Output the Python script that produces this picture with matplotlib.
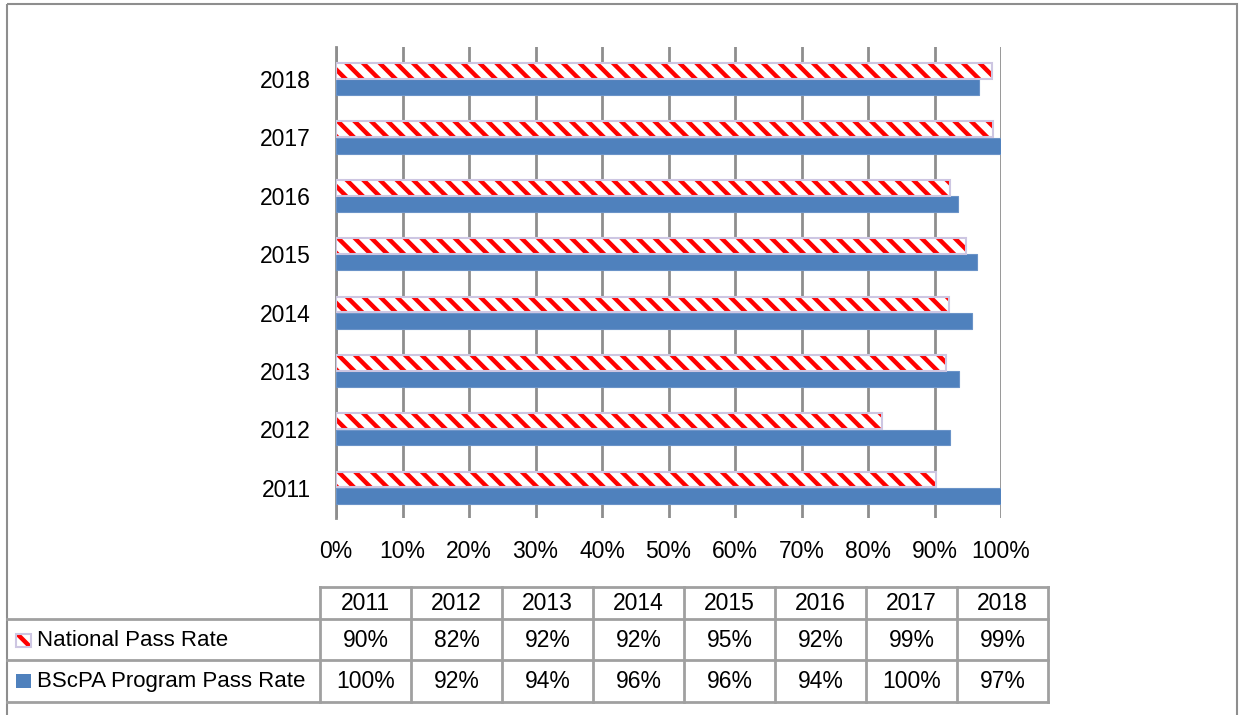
import matplotlib
matplotlib.use('Agg')
import matplotlib.pyplot as plt
import matplotlib.patches as mpatches

plt.rcParams['font.family'] = ['Liberation Sans', 'DejaVu Sans']
plt.rcParams['hatch.linewidth'] = 3.2

# ── data ──
years = [2011, 2012, 2013, 2014, 2015, 2016, 2017, 2018]
national = [90.2, 82.1, 91.7, 92.2, 94.7, 92.3, 98.8, 98.6]
program = [100.0, 92.3, 93.7, 95.6, 96.4, 93.6, 100.0, 96.7]
series_names = ['National Pass Rate', 'BScPA Program Pass Rate']
x_ticks = [0, 10, 20, 30, 40, 50, 60, 70, 80, 90, 100]

C = {
    'blue': '#4f81bd',
    'red': '#ff0000',
    'lav': '#cdc6e2',
    'grid': '#8e8e8e',
    'table': '#a0a0a0',
}
FS = 16.5

W, H = 1239, 715
fig = plt.figure(figsize=(W / 100, H / 100), dpi=100)

# ── bar chart ──
ax = fig.add_axes([336 / W, 1 - 518 / H, 665 / W, 471 / H])
pos = list(range(len(years)))
bh = 0.27
ax.barh([p + bh / 2 + 0.005 for p in pos], national, height=bh, color='white',
        edgecolor=C['red'], hatch='\\\\', linewidth=0, zorder=3)
ax.barh([p + bh / 2 + 0.005 for p in pos], national, height=bh, color='none',
        edgecolor=C['lav'], linewidth=1.5, zorder=4)
ax.barh([p - bh / 2 - 0.005 for p in pos], program, height=bh, color=C['blue'],
        edgecolor='#6a93c8', linewidth=0.8, zorder=3)

ax.set_xlim(0, 100)
ax.set_ylim(-0.52, 7.55)
ax.set_xticks(x_ticks)
ax.set_xticklabels([f'{t}%' for t in x_ticks], fontsize=FS)
ax.set_yticks(pos)
ax.set_yticklabels([str(y) for y in years], fontsize=FS)
ax.tick_params(axis='both', length=0)
ax.tick_params(axis='x', pad=16)
ax.tick_params(axis='y', pad=18)
ax.grid(axis='x', color=C['grid'], lw=2, zorder=1)
for s in ['top', 'right', 'bottom']:
    ax.spines[s].set_visible(False)
ax.spines['left'].set_color(C['grid'])
ax.spines['left'].set_linewidth(2)
ax.set_axisbelow(True)

# ── overlay in pixel coords for frame and data table ──
ov = fig.add_axes([0, 0, 1, 1], facecolor='none')
ov.set_xlim(0, W)
ov.set_ylim(H, 0)
ov.axis('off')

# outer frame (bottom edge runs past the image)
ov.add_patch(mpatches.Rectangle((7, 4), 1230, 730, fill=False,
                                edgecolor=C['grid'], lw=1.5, clip_on=True))

col_x = [320 + i * 91 for i in range(len(years) + 1)]
row_y = [587, 619, 660, 702]
lc = C['table']
# header row
ov.plot([col_x[0], col_x[-1]], [row_y[0], row_y[0]], color=lc, lw=2)
for r in row_y[1:]:
    ov.plot([7, col_x[-1]], [r, r], color=lc, lw=2)
for cx in col_x:
    ov.plot([cx, cx], [row_y[0], row_y[-1]], color=lc, lw=2)

mid = [(row_y[k] + row_y[k + 1]) / 2 + 1 for k in range(3)]
for i, y in enumerate(years):
    cx = (col_x[i] + col_x[i + 1]) / 2
    ov.text(cx, mid[0], str(y), ha='center', va='center', fontsize=FS)
    ov.text(cx, mid[1], f'{round(national[i])}%', ha='center', va='center', fontsize=FS)
    ov.text(cx, mid[2], f'{round(program[i])}%', ha='center', va='center', fontsize=FS)

# legend keys + row labels
ov.add_patch(mpatches.Rectangle((16, 634), 15, 13, facecolor='white', edgecolor=C['red'],
                                hatch='\\\\', lw=0))
ov.add_patch(mpatches.Rectangle((16, 634), 15, 13, fill=False, edgecolor=C['lav'], lw=1.5))
ov.add_patch(mpatches.Rectangle((16, 674), 15, 14, facecolor=C['blue'], lw=0))
ov.text(37, mid[1], series_names[0], ha='left', va='center', fontsize=16)
ov.text(37, mid[2], series_names[1], ha='left', va='center', fontsize=16)

fig.savefig('out.png', dpi=100, facecolor='white')
